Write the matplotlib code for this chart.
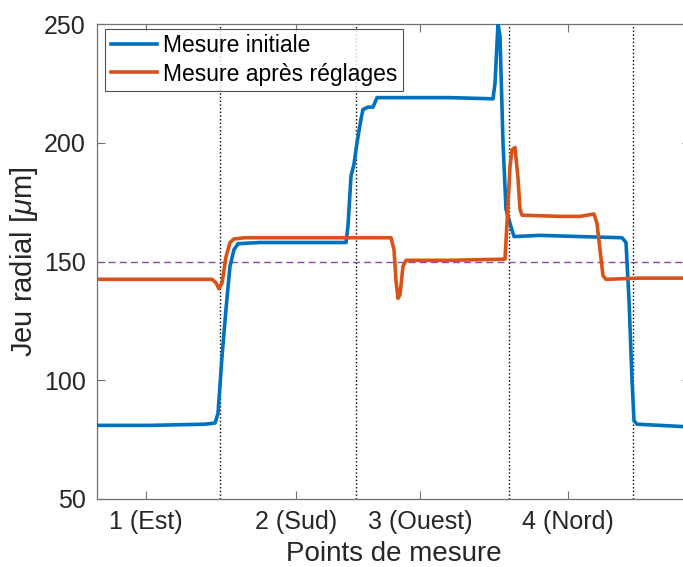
import matplotlib
matplotlib.use("Agg")
import matplotlib.pyplot as plt

plt.rcParams['font.family'] = ['Liberation Sans', 'DejaVu Sans']
plt.rcParams['mathtext.fontset'] = 'custom'
plt.rcParams['mathtext.it'] = 'Liberation Sans:italic'

# position along the measurement run (arbitrary units) and radial play in um
x_init = [0, 53, 108, 118, 121, 125, 129, 133, 137, 141, 163, 203, 249, 251,
          254, 257, 260, 264, 266, 271, 276, 280, 293, 353, 396, 398, 401,
          403, 406, 409, 413, 417, 443, 483, 525, 529, 532, 535, 537, 540,
          563, 586, 593]
y_init = [81, 81, 81.5, 82, 86, 110, 130, 148, 155, 157.5, 158, 158, 158,
          165, 186, 191, 200, 210, 214, 215, 215, 219, 219, 219, 218.5, 225,
          250, 245, 200, 172, 166, 160.5, 161, 160.5, 160, 158, 134, 100, 83,
          81.5, 81, 80.5, 80.5]

x_after = [0, 53, 115, 119, 122, 125, 129, 133, 137, 148, 203, 253, 294, 297,
           299, 301, 303, 306, 309, 353, 408, 411, 413, 415, 418, 421, 423,
           425, 463, 483, 497, 500, 503, 506, 509, 543, 593]
y_after = [142.5, 142.5, 142.5, 141, 138.5, 141, 152, 158, 159.5, 160, 160,
           160, 160, 155, 142, 134.5, 136, 148, 150.5, 150.5, 151, 174, 190,
           197, 198, 185, 172, 169.5, 169, 169, 170, 166, 155, 144, 142.5,
           143, 143]

tick_pos = [49, 199, 323, 471]
tick_labels = ['1 (Est)', '2 (Sud)', '3 (Ouest)', '4 (Nord)']
separators = [123, 259, 412, 536]
target = 150

fig = plt.figure(figsize=(6.83, 5.67), dpi=100)
ax = fig.add_axes([97 / 683, 1 - 499 / 567, 593 / 683, 475 / 567])

for s in separators:
    ax.axvline(s, color='black', linestyle=':', linewidth=1.0, zorder=1)
ax.axhline(target, color='#8E44AD', linestyle='--', linewidth=1.0,
           dashes=(5, 3), zorder=1)

ax.plot(x_init, y_init, color='#0072BD', linewidth=2.6,
        label='Mesure initiale', zorder=3)
ax.plot(x_after, y_after, color='#D95319', linewidth=2.6,
        label='Mesure après réglages', zorder=3)

ax.set_xlim(0, 593)
ax.set_ylim(50, 250)
ax.set_yticks([50, 100, 150, 200, 250])
ax.set_xticks(tick_pos)
ax.set_xticklabels(tick_labels)
ax.tick_params(direction='in', length=6, width=0.8, labelsize=18,
               top=True, right=True, colors='#707070', labelcolor='#262626',
               pad=8)
for sp in ax.spines.values():
    sp.set_color('#707070')
    sp.set_linewidth(0.9)

ax.set_xlabel('Points de mesure', fontsize=20, color='#262626', labelpad=5)
ax.set_ylabel(r'Jeu radial [$\mu$m]', fontsize=21, color='#262626', labelpad=3)

leg = ax.legend(loc='upper left', fontsize=16.5, frameon=True, fancybox=False,
                edgecolor='#262626', borderpad=0.25, handlelength=2.0,
                handletextpad=0.25, labelspacing=0.22, borderaxespad=0,
                bbox_to_anchor=(0.014, 0.99))
leg.get_frame().set_linewidth(0.8)

fig.savefig('out.png', dpi=100)
